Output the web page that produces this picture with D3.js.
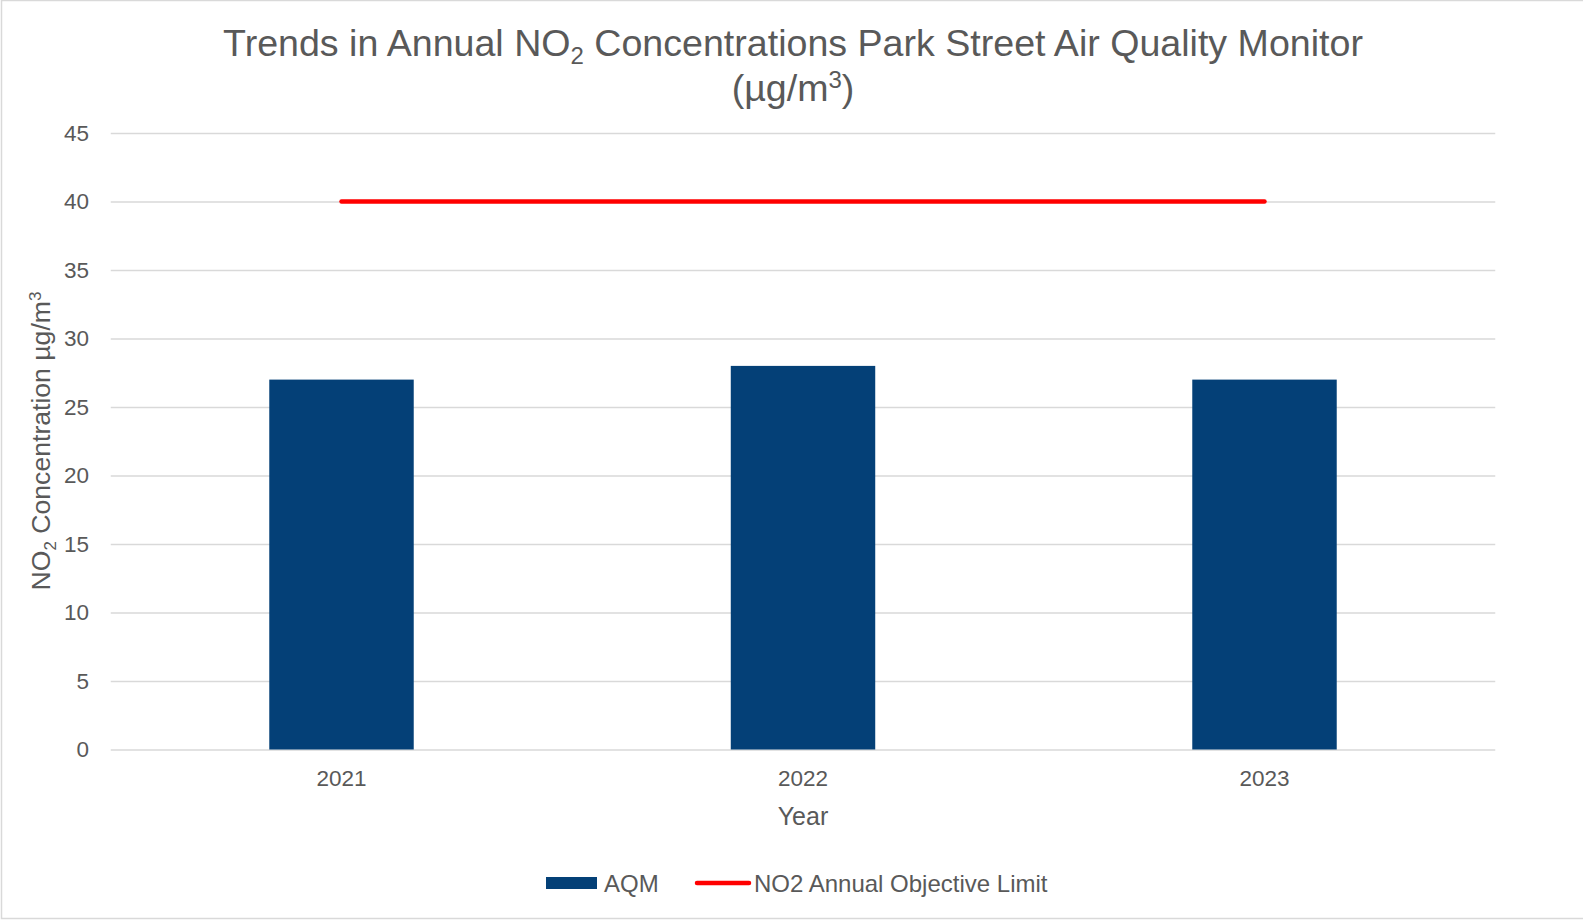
<!DOCTYPE html>
<html>
<head>
<meta charset="utf-8">
<script src="https://cdn.jsdelivr.net/npm/d3@7"></script>
<style>
  body { margin: 0; background: #fff; }
  svg { display: block; font-family: "Liberation Sans", Arial, sans-serif; }
</style>
</head>
<body>
<svg id="chart"></svg>
<script>
// chart data
const years = ["2021", "2022", "2023"];
const aqm = [27, 28, 27];
const objectiveLimit = [40, 40, 40];
const yTicks = [0, 5, 10, 15, 20, 25, 30, 35, 40, 45];

const W = 1583, H = 920;
const plot = {left: 110.75, right: 1495.25, top: 133, bottom: 749.5};
const textColor = "#595959";
const gridColor = "#d9d9d9";
const barColor = "#044077";
const limitColor = "#ff0000";

const svg = d3.select("#chart")
	.attr("width", W)
	.attr("height", H);

// outer frame
svg.append("rect")
	.attr("x", 1.5).attr("y", 0.5)
	.attr("width", W + 5).attr("height", H - 2)
	.attr("fill", "#fff")
	.attr("stroke", gridColor)
	.attr("stroke-width", 1.5);

const x = d3.scaleBand()
	.domain(years)
	.range([plot.left, plot.right])
	.paddingInner(0.687)
	.paddingOuter(0.3435);

const y = d3.scaleLinear()
	.domain([0, 45])
	.range([plot.bottom, plot.top]);

// y axis with gridlines
const yAxis = svg.append("g")
	.attr("transform", `translate(${plot.left},0)`)
	.call(d3.axisLeft(y)
		.tickValues(yTicks)
		.tickSize(-(plot.right - plot.left))
		.tickPadding(21.75)
		.tickFormat(d3.format("d")));

yAxis.select(".domain").remove();
yAxis.selectAll(".tick line")
	.attr("stroke", gridColor)
	.attr("stroke-width", 1.5);
yAxis.selectAll(".tick text")
	.attr("fill", textColor)
	.attr("font-size", 22.5)
	.attr("font-family", "Liberation Sans, Arial, sans-serif");

// x axis
const xAxis = svg.append("g")
	.attr("transform", `translate(0,${plot.bottom})`)
	.call(d3.axisBottom(x).tickSize(0).tickPadding(21));

xAxis.select(".domain").remove();
xAxis.selectAll(".tick text")
	.attr("fill", textColor)
	.attr("font-size", 22.5)
	.attr("font-family", "Liberation Sans, Arial, sans-serif");

// bars
svg.append("g")
	.selectAll("rect")
	.data(years)
	.join("rect")
	.attr("x", d => x(d))
	.attr("y", (d, i) => y(aqm[i]))
	.attr("width", x.bandwidth())
	.attr("height", (d, i) => y(0) - y(aqm[i]))
	.attr("fill", barColor);

// objective limit line
const line = d3.line()
	.x((d, i) => x(years[i]) + x.bandwidth() / 2)
	.y(d => y(d));

svg.append("path")
	.datum(objectiveLimit)
	.attr("d", line)
	.attr("fill", "none")
	.attr("stroke", limitColor)
	.attr("stroke-width", 4.5)
	.attr("stroke-linecap", "round");

// title
const title = svg.append("text")
	.attr("x", 793)
	.attr("y", 55.5)
	.attr("text-anchor", "middle")
	.attr("fill", textColor)
	.attr("font-size", 37.6);
title.append("tspan").text("Trends in Annual NO");
title.append("tspan").attr("dy", 8).attr("font-size", 24).text("2");
title.append("tspan").attr("dy", -8).text(" Concentrations Park Street Air Quality Monitor");

const title2 = svg.append("text")
	.attr("x", 793)
	.attr("y", 100.5)
	.attr("text-anchor", "middle")
	.attr("fill", textColor)
	.attr("font-size", 37.6);
title2.append("tspan").text("(µg/m");
title2.append("tspan").attr("dy", -13).attr("font-size", 24).text("3");
title2.append("tspan").attr("dy", 13).text(")");

// axis titles
svg.append("text")
	.attr("x", (plot.left + plot.right) / 2)
	.attr("y", 825)
	.attr("text-anchor", "middle")
	.attr("fill", textColor)
	.attr("font-size", 25)
	.text("Year");

const yTitle = svg.append("text")
	.attr("transform", "translate(50,441) rotate(-90)")
	.attr("text-anchor", "middle")
	.attr("fill", textColor)
	.attr("font-size", 26.6);
yTitle.append("tspan").text("NO");
yTitle.append("tspan").attr("dy", 6).attr("font-size", 17).text("2");
yTitle.append("tspan").attr("dy", -6).text(" Concentration µg/m");
yTitle.append("tspan").attr("dy", -9).attr("font-size", 17).text("3");

// legend
const legend = svg.append("g");
legend.append("rect")
	.attr("x", 546).attr("y", 877)
	.attr("width", 51).attr("height", 12)
	.attr("fill", barColor);
legend.append("text")
	.attr("x", 604).attr("y", 891.5)
	.attr("fill", textColor)
	.attr("font-size", 24)
	.text("AQM");
legend.append("line")
	.attr("x1", 697).attr("x2", 749)
	.attr("y1", 883).attr("y2", 883)
	.attr("stroke", limitColor)
	.attr("stroke-width", 4.5)
	.attr("stroke-linecap", "round");
legend.append("text")
	.attr("x", 754).attr("y", 891.5)
	.attr("fill", textColor)
	.attr("font-size", 24)
	.text("NO2 Annual Objective Limit");
</script>
</body>
</html>
